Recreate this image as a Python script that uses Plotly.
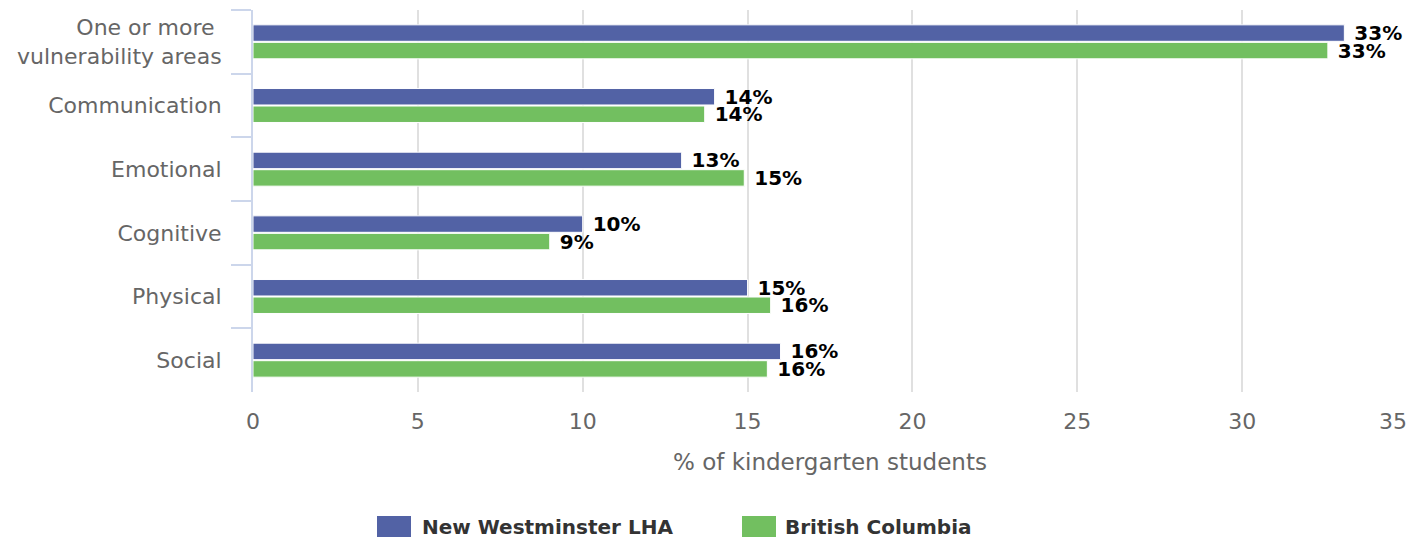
import plotly.graph_objects as go

categories = ["One or more <br>vulnerability areas", "Communication", "Emotional",
              "Cognitive", "Physical", "Social"]
nw_values = [33.1, 14.0, 13.0, 10.0, 15.0, 16.0]
bc_values = [32.6, 13.7, 14.9, 9.0, 15.7, 15.6]
series_names = ["New Westminster LHA", "British Columbia"]
series_colors = ["#5262A5", "#72BF60"]
x_ticks = [0, 5, 10, 15, 20, 25, 30, 35]
x_ticktext = ["0", "5", "10", "15", "20", "25", "30", ""]

FONT = "DejaVu Sans"
W, H = 1424, 542
OFF = 8  # page body margin offset
L, R, T, B = 245, 25, 2, 158
PL, PR, PT, PB = L, W - R, T, H - B


def px(sx):
    return (sx - OFF - PL) / (PR - PL)


def py(sy):
    return (PB - (sy - OFF)) / (PB - PT)


fig = go.Figure()
for name, vals, color in zip(series_names, [nw_values, bc_values], series_colors):
    fig.add_trace(go.Bar(
        y=categories, x=vals, name=name, orientation="h",
        marker=dict(color=color, line=dict(color="#ffffff", width=1)),
        texttemplate=" %{x:.0f}%", textposition="outside",
        textfont=dict(family=FONT, size=20, color="#000000", weight="bold"),
        cliponaxis=False, constraintext="none", showlegend=False,
    ))

shapes = []
annotations = []
# legend (manual, to reproduce the wide rectangular symbols)
legend_items = [(377, 420), (742, 783)]
for (sq_x, tx_x), name, color in zip(legend_items, series_names, series_colors):
    shapes.append(dict(type="rect", xref="paper", yref="paper",
                       x0=px(sq_x), x1=px(sq_x + 34), y0=py(537), y1=py(516),
                       fillcolor=color, line=dict(width=0)))
    annotations.append(dict(text=name, xref="paper", yref="paper", x=px(tx_x), y=py(527),
                            xanchor="left", yanchor="middle", showarrow=False,
                            font=dict(family=FONT, size=20, color="#333333", weight="bold")))
# last x tick label, pulled inside like the reference
annotations.append(dict(text="35", xref="x", yref="paper", x=35, y=py(421),
                        xanchor="right", yanchor="middle", showarrow=False, xshift=2,
                        font=dict(family=FONT, size=22, color="#666666")))

fig.update_layout(
    width=W, height=H,
    barmode="group", bargap=0.45, bargroupgap=0.06,
    plot_bgcolor="#ffffff", paper_bgcolor="#ffffff",
    margin=dict(l=L, r=R, t=T, b=B, autoexpand=False),
    font=dict(family=FONT, size=22, color="#666666"),
    showlegend=False,
    shapes=shapes, annotations=annotations,
    xaxis=dict(range=[0, 35], tickvals=x_ticks, ticktext=x_ticktext, showgrid=True,
               gridcolor="#e0e0e0", gridwidth=2, zeroline=False, showline=False,
               ticks="outside", ticklen=10, tickcolor="rgba(0,0,0,0)",
               tickfont=dict(size=22, color="#666666"),
               title=dict(text="% of kindergarten students",
                          font=dict(size=23, color="#666666"), standoff=20)),
    yaxis=dict(type="category", autorange="reversed", showline=True, linecolor="#ccd6eb",
               linewidth=2, ticks="outside", tickson="boundaries", ticklen=20,
               tickcolor="#ccd6eb", tickwidth=2, showgrid=False, ticklabelstandoff=25,
               tickfont=dict(size=22, color="#666666")),
)

fig.write_html("out.html")
